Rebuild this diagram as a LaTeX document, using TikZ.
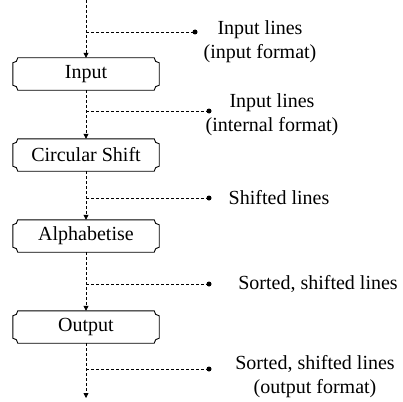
\documentclass[tikz,border=0pt]{standalone}
\usepackage{fontspec}
\setmainfont{Liberation Serif}
\usetikzlibrary{arrows.meta}
\tikzset{
  proc/.style={minimum width=146pt, minimum height=32pt, inner sep=0pt, font=\fontsize{20}{24}\selectfont},
  lbl/.style={align=center, inner sep=0pt, font=\fontsize{20}{24}\selectfont},
  boxline/.style={line width=0.9pt},
  flow/.style={dash pattern=on 3pt off 2pt, line width=0.8pt, -{Triangle[length=5pt,width=5pt]}},
  branch/.style={dash pattern=on 3pt off 2pt, line width=0.8pt},
  dotn/.style={circle, fill=black, inner sep=0pt, minimum size=5pt}
}
\newcommand{\invbox}[1]{%
  \draw[boxline] ([xshift=5pt]#1.north west) -- ([xshift=-5pt]#1.north east)
    arc[start angle=180,end angle=270,radius=5pt] -- ([yshift=5pt]#1.south east)
    arc[start angle=90,end angle=180,radius=5pt] -- ([xshift=5pt]#1.south west)
    arc[start angle=0,end angle=90,radius=5pt] -- ([yshift=-5pt]#1.north west)
    arc[start angle=270,end angle=360,radius=5pt] -- cycle;}
\begin{document}
\begin{tikzpicture}[x=1pt,y=1pt]
\useasboundingbox (0,0) rectangle (403,-401);
% process boxes
\node[proc] (inp) at (86,-74) {Input};
\node[proc] (circ) at (86,-155) {Circular Shift};
\node[proc] (alph) at (86,-236) {Alphabetise};
\node[proc] (outp) at (86,-327) {Output};
\invbox{inp}
\invbox{circ}
\invbox{alph}
\invbox{outp}
% free ends
\coordinate (top) at (86,0);
\coordinate (bot) at (86,-398);
% flow arrows
\draw[flow] (top) -- (inp.north);
\draw[flow] (inp.south) -- (circ.north);
\draw[flow] (circ.south) -- (alph.north);
\draw[flow] (alph.south) -- (outp.north);
\draw[flow] (outp.south) -- (bot);
% branch points
\coordinate (b1) at (86,-32);
\coordinate (b2) at (86,-111);
\coordinate (b3) at (86,-198);
\coordinate (b4) at (86,-284);
\coordinate (b5) at (86,-369);
% dots
\node[dotn] (d1) at (195,-32) {};
\node[dotn] (d2) at (209,-111) {};
\node[dotn] (d3) at (209,-198) {};
\node[dotn] (d4) at (209,-284) {};
\node[dotn] (d5) at (209,-369) {};
\draw[branch] (b1) -- (d1.center);
\draw[branch] (b2) -- (d2.center);
\draw[branch] (b3) -- (d3.center);
\draw[branch] (b4) -- (d4.center);
\draw[branch] (b5) -- (d5.center);
% labels
\node[lbl] (l1) at (260,-42) {Input lines\\(input format)};
\node[lbl] (l2) at (272,-115) {Input lines\\(internal format)};
\node[lbl] (l3) at (279,-198) {Shifted lines};
\node[lbl] (l4) at (318,-284) {Sorted, shifted lines};
\node[lbl] (l5) at (315,-377) {Sorted, shifted lines\\(output format)};
\end{tikzpicture}
\end{document}
